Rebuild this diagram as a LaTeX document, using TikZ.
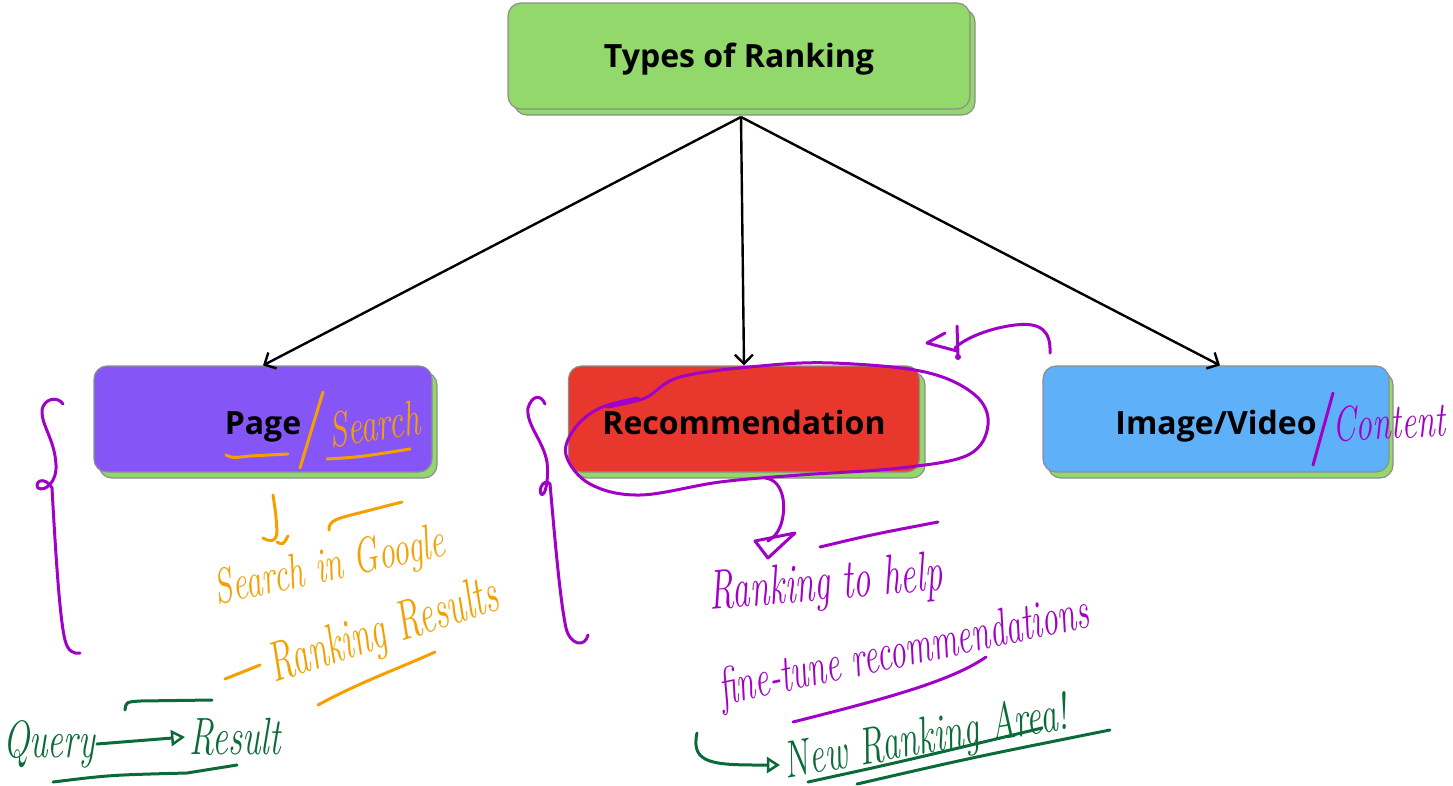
\documentclass[tikz,border=0pt]{standalone}
\usepackage{fontspec}
\newfontfamily\boxfont{Open Sans}
\usetikzlibrary{arrows.meta}
\definecolor{topgreen}{HTML}{93D86B}
\definecolor{pagepurple}{HTML}{8555F6}
\definecolor{recred}{HTML}{E8382D}
\definecolor{imgblue}{HTML}{5EB1F8}
\definecolor{edgegray}{HTML}{8E8E8E}
\definecolor{inkorange}{HTML}{F5A000}
\definecolor{inkpurple}{HTML}{A100C6}
\definecolor{inkgreen}{HTML}{0B6B38}
\newcommand{\tall}[2][1.5]{\scalebox{1}[#1]{#2}}
\tikzset{
  card/.style={draw=edgegray, line width=1.2pt, rounded corners=13pt,
    minimum width=#1, minimum height=106pt, inner sep=0pt,
    text height=31pt, text depth=0pt,
    font=\boxfont\bfseries\fontsize{32}{36}\selectfont, text=black},
  cardshadow/.style={draw=edgegray, line width=1.2pt, rounded corners=13pt,
    fill=topgreen},
  link/.style={draw=black, line width=2.4pt,
    -{Straight Barb[length=9pt,width=18pt,line width=2.4pt]}},
  hand/.style={inner sep=0pt, font=\itshape\fontsize{#1}{#1}\selectfont},
  hand/.default=32,
  ink/.style={line width=3pt, line cap=round, line join=round}
}
\begin{document}
\begin{tikzpicture}[x=1pt,y=-1pt]
\useasboundingbox[fill=white] (0,0) rectangle (1453,785);

% boxes with their offset backing
\draw[cardshadow] (514,9) rectangle (975,115);
\node[card=462pt, fill=topgreen, text height=23pt] (top) at (739,56) {Types of Ranking};

\draw[cardshadow] (99,372) rectangle (437,478);
\node[card=338pt, fill=pagepurple] (page) at (263,419) {Page};

\draw[cardshadow] (574,372) rectangle (925,478);
\node[card=351pt, fill=recred] (rec) at (744,419) {Recommendation};

\draw[cardshadow] (1048,372) rectangle (1393,478);
\node[card=346pt, fill=imgblue] (img) at (1216,419) {Image/Video};

% connectors
\coordinate (fork) at (741,117);
\draw[link] (fork) -- (page.north);
\draw[link] (fork) -- (rec.north);
\draw[link] (fork) -- ([xshift=4pt]img.north);

% ---- orange notes on the search branch ----
\begin{scope}[inkorange]
\draw[ink] (323,392) -- (300,468);
\node[hand=33, text=inkorange, rotate=8] (search) at (374,424) {\tall{Search}};
\draw[ink] (226,455) .. controls (232,458) .. (250,456) -- (288,454);
\draw[ink] (327,459) .. controls (360,457) .. (410,449);
\draw[ink] (273,495) .. controls (276,515) .. (277,532) .. controls (276,545) and (266,540) .. (263,538);
\draw[ink] (277,542) .. controls (283,545) .. (288,536);
\draw[ink] (329,530) .. controls (328,520) and (340,518) .. (355,514) -- (402,502);
\node[hand=33, text=inkorange, rotate=12] (google) at (330,568) {\tall{Search in Google}};
\draw[ink] (225,679) -- (260,665);
\node[hand=35, text=inkorange, rotate=18] (results) at (384,633) {\tall[1.6]{Ranking Results}};
\draw[ink] (318,705) .. controls (360,682) and (400,668) .. (435,652);
\end{scope}

% ---- green notes on the search branch ----
\begin{scope}[inkgreen]
\node[hand=35, text=inkgreen] (query) at (49,744) {\tall{Query}};
\node[hand=35, text=inkgreen] (result) at (235,737) {\tall{Result}};
\draw[ink, -{Triangle[open, length=14pt, width=16pt, line width=2.5pt]}] ([xshift=2pt]query.east) -- ([xshift=-4pt]result.west);
\draw[ink] (125,710) .. controls (126,702) .. (140,701) -- (212,700);
\draw[ink] (53,782) .. controls (110,775) .. (187,773) -- (237,765);
\end{scope}

% ---- purple braces ----
\begin{scope}[inkpurple]
\draw[ink] (63,404) .. controls (58,396) and (44,398) .. (42,410)
  .. controls (41,425) and (55,440) .. (56,465)
  .. controls (57,482) and (45,492) .. (38,488)
  .. controls (34,482) and (44,475) .. (52,488)
  .. controls (56,560) and (60,620) .. (65,640)
  .. controls (68,652) and (74,654) .. (80,653);
\draw[ink] (545,404) .. controls (541,394) and (532,395) .. (528,408)
  .. controls (526,425) and (543,440) .. (547,462)
  .. controls (549,480) and (545,498) .. (541,494)
  .. controls (538,488) and (545,478) .. (550,484)
  .. controls (555,540) and (560,600) .. (566,628)
  .. controls (570,645) and (585,648) .. (588,635);

% loop round the recommendation box
\draw[ink] plot[smooth, tension=0.6] coordinates {
  (607,407) (645,398) (680,377) (760,366) (833,363) (925,372) (975,395)
  (988,425) (968,455) (900,468) (800,475) (720,482) (640,495) (590,484)
  (566,455) (575,428) (600,408) (638,398)};

% arrow back from the right
\draw[ink] (1050,353) .. controls (1051,330) and (1040,322) .. (1015,325)
  .. controls (990,328) and (965,338) .. (955,348);
\draw[ink] (945,333) -- (927,343) -- (957,351);
\draw[ink] (957,326) -- (958,356);
\fill (958,357) circle (3pt);

\draw[ink] (1333,393) -- (1313,465);
\node[hand=33, text=inkpurple, rotate=3] (content) at (1389,422) {\tall{Content}};

% arrow down to the note
\draw[ink] (765,478) .. controls (785,480) and (787,510) .. (780,527) .. controls (776,535) .. (768,541);
\draw[ink] (755,541) -- (795,533) -- (768,558) -- cycle;

\draw[ink] (820,547) .. controls (870,535) .. (938,522);
\node[hand=35, text=inkpurple, rotate=5] (help) at (826,586) {\tall[1.6]{Ranking to help}};
\node[hand=33, text=inkpurple, rotate=12] (fine) at (904,653) {\tall[1.6]{fine-tune recommendations}};
\draw[ink] (793,722) .. controls (880,700) and (950,682) .. (986,657);
\end{scope}

% ---- green note below ----
\begin{scope}[inkgreen]
\coordinate (hookstart) at (697,733);
\node[hand=35, text=inkgreen, rotate=10] (area) at (926,740) {\tall{New Ranking Area!}};
\draw[ink, -{Triangle[open, length=13pt, width=16pt, line width=2.5pt]}]
  (hookstart) .. controls (690,765) and (715,765) .. ([xshift=-4pt]area.west);
\draw[ink] (808,782) .. controls (900,762) .. (1042,728);
\draw[ink] (857,784) .. controls (970,758) .. (1110,730);
\end{scope}
\end{tikzpicture}
\end{document}
